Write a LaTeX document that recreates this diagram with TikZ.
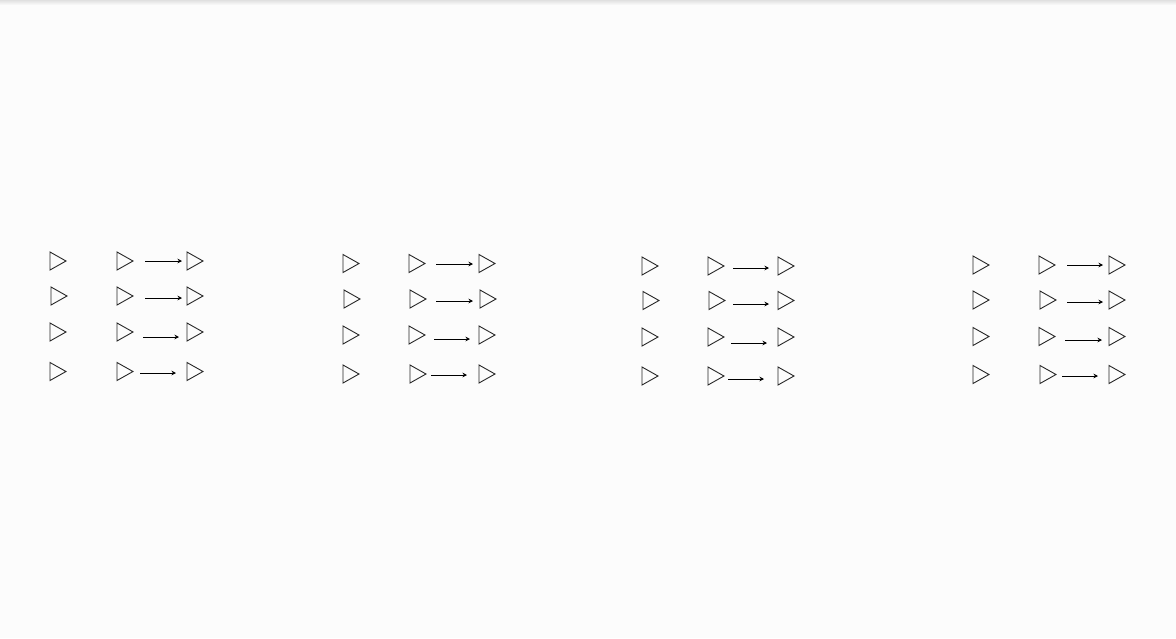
\documentclass[tikz,border=0pt]{standalone}
\usetikzlibrary{arrows.meta,calc}
\definecolor{bgcol}{RGB}{252,252,252}
\tikzset{
  tribox/.style={minimum width=16pt,minimum height=18pt,inner sep=0pt,outer sep=0pt},
  triline/.style={draw=black!85,line width=0.9pt,line join=miter},
  arr/.style={draw=black,line width=0.85pt,-{Stealth[length=4.5pt,width=4.5pt]}}
}
\newcommand{\mytri}[3]{\node[tribox] (#1) at (#2,#3) {}; \draw[triline] (#1.north west) -- (#1.east) -- (#1.south west) -- cycle;}
\begin{document}
\begin{tikzpicture}[x=1pt,y=-1pt]
\fill[bgcol] (0,0) rectangle (1176,638);
\shade[top color=black!12,bottom color=bgcol] (0,0) rectangle (1176,5);
\useasboundingbox (0,0) rectangle (1176,638);
\foreach \n/\L/\M/\R/\yc/\as/\ae/\ay in {
  1/50/117/187/261/145/182/261,
  2/51/117/187/296/145/182/298,
  3/50/117/187/332/143/179/337,
  4/50/117/187/371.5/140/176/373,
  5/343/409/479/263.5/436/473/264,
  6/344/410/480/299/436/473/301,
  7/343/409/479/335/434/470/339,
  8/343/410/479/374/431/467/375,
  9/642/708/778/266/733/769/268,
  10/643/709/778/300.5/733/769/304,
  11/642/708/778/337/731/767/343,
  12/642/708/778/376/728/764/379,
  13/973/1039/1109/265/1067/1103/265,
  14/973/1040/1109/300/1067/1103/302,
  15/973/1039/1109/336.5/1065/1102/340,
  16/973/1040/1109/374.5/1062/1098/376}{
  \mytri{l\n}{\L+8}{\yc}
  \mytri{m\n}{\M+8}{\yc}
  \mytri{r\n}{\R+8}{\yc}
  \draw[arr] ($(m\n.east)+(\as-\M-16,\ay-\yc)$) -- ($(r\n.west)+(\ae-\R,\ay-\yc)$);
}
\end{tikzpicture}
\end{document}
